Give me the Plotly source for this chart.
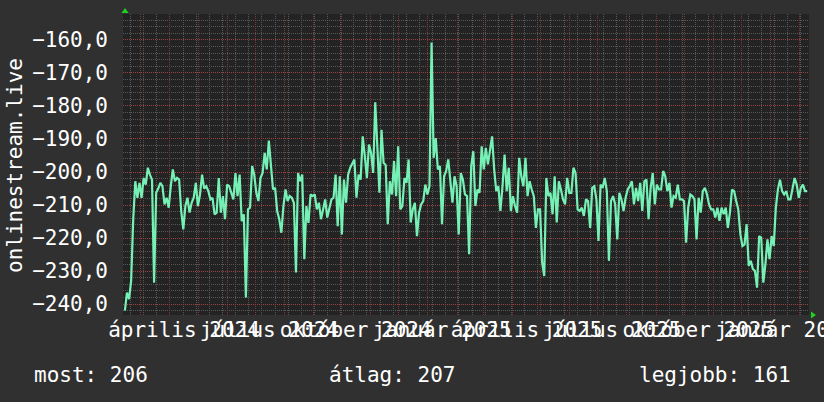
import pandas as pd
import plotly.graph_objects as go

# ---- data ----
values_a = [
    -242, -236.5, -238.5, -233, -214.3, -202.8, -207.8, -203.3, -207.8, -201.8,
    -203.8, -198.7, -200.8, -202.3, -233.5, -206.3, -205, -203.3, -204.3, -209.8,
    -207.8, -210.8, -204.3, -199.2, -202.8, -201.8, -202.3, -211.8, -217.4, -210.3,
    -207.8, -212.3, -209.3, -207.8, -203.3, -210.3, -206.8, -200.8, -205, -204.3,
    -205.8, -208.3, -207.8, -212.8, -212.3, -201.8, -212.3, -207.3, -214.3, -203.8,
    -204.3, -206.3, -208.3, -200.3, -207.3, -200.8, -214.9, -212.8, -238, -211.3,
    -210.8, -198.2, -200.8, -206.3, -208.8, -201.8, -200.3, -194.2, -199.2, -190.5,
    -199.2, -205.3, -204.8, -211.8, -214.3, -218.4, -210.3, -205.3, -208.8, -207.3,
    -207.8, -209.3, -230.4, -200.3, -202.8, -200.8, -226.4, -210.3, -215.4, -206.8,
    -207.3, -206.8, -211.3, -209.3, -214.3, -210.8, -208.3, -213.8, -210.8, -208.3,
    -207.8, -200.8, -216.4, -201.3, -218.9, -202.3, -209.3, -200.8, -198.7, -197.2,
]
values_b = [
    -196.2, -207.8, -200.8, -202.3, -189.2, -195.2, -201.8, -191.7, -194.2, -200.3,
    -178.9, -192.2, -206.3, -187.2, -197.2, -197.9, -215.8, -202.8, -206.8, -196.7,
    -207.3, -192.2, -211.3, -210.3, -201.8, -203.3, -196.2, -215.3, -211.3, -209.3,
    -219.4, -212.3, -209.8, -208.8, -203.8, -206.8, -204.3, -160.8, -195.7, -189.7,
    -199.2, -198.2, -215.8, -201.3, -199.7, -196.2, -202.3, -209.3, -201.3, -204.3,
    -218.9, -200.3, -202.3, -206.8, -207.3, -224.9, -198.2, -193.7, -210.3, -205.3,
    -206.3, -192.2, -199.2, -192.7, -197.7, -192.7, -189.2, -199.2, -205.8, -204.3,
    -211.8, -204.3, -194.7, -205.8, -198.7, -211.8, -207.3, -210.3, -212.3, -195.7,
    -201.3, -204.3, -195.7, -207.3, -202.8, -205.3, -207.3, -216.9, -211.3, -211.3,
    -227.4, -231.5, -201.8, -207.3, -206.3, -212.8, -201.3, -215.3, -202.8, -205.3,
    -208.3, -209.8, -201.8, -206.3, -206.3, -198.7, -200.3,
]
values_c = [
    -211.3, -211.8, -210.8, -213.3, -208.3, -208.8, -216.9, -204.8, -204.3,
    -208.3, -220.9, -203.8, -204.8, -201.8, -205.8, -226.9, -208.8, -207.3, -209.8,
    -220.4, -206.3, -208.3, -211.8, -207.8, -205.3, -204.3, -202.8, -209.8, -204.8,
    -208.8, -203.3, -211.8, -202.8, -202.3, -214.3, -204.8, -200.3, -209.8, -203.8,
    -205.3, -205.3, -199.7, -201.3, -205.8, -203.3, -210.8, -207.3, -207.8, -203.8,
    -208.3, -208.3, -208.8, -221.4, -210.8, -206.8, -207.3, -208.3, -220.4, -207.8,
    -212.3, -205.8, -204.8, -206.8, -209.8, -211.3, -211.3, -213.8, -210.8, -214.8,
    -210.8, -212.8, -210.8, -216.9, -212.3, -205.3, -205.8, -208.8, -211.3, -218.9,
    -222.4, -221.9, -215.8, -228.4, -226.9, -229.4, -229.9, -235, -219.4, -219.9,
    -233.5, -228, -220.4, -226.4, -219.4, -222.4, -210.8, -205.3, -202.3, -205.8,
    -206.8, -205.8, -208.3, -208.3, -204.8, -201.8, -203.8, -207.8, -204.8, -203.8,
    -205.8, -205.8,
]
values = values_a + values_b + values_c
first_date = "2024-02-13"
last_date = "2026-02-09"
dates = pd.date_range(first_date, last_date, periods=len(values))

x_range = ["2024-02-11", "2026-02-11"]
y_range = [-243.3, -152.15]

label_dates = ["2024-04-16", "2024-07-16", "2024-10-16", "2025-01-16",
               "2025-04-16", "2025-07-16", "2025-10-16", "2026-01-16"]
label_texts = ["április 2024", "július 2024", "október 2024", "január 2025",
               "április 2025", "július 2025", "október 2025", "január 2026"]

series_name = "onlinestream.live"
stat_texts = ["most: 206", "átlag: 207", "legjobb: 161"]

# ---- style ----
W, H = 824, 402
L, R, T, B = 123, 15, 14, 87
PW, PH = W - L - R, H - T - B
FONT = "DejaVu Sans Mono"
FS = 21
PAPER = "#303030"
PLOT = "#232323"
MINOR = "#575757"
MAJOR = "#7c3838"
MAJOR_Y = "#9a4242"
LINE = "#76f1b6"
ARROW = "#1ed21e"
DOTS = "1px,1px"

# minor horizontal grid every 2 units, skipping the major (every 10) lines
y_minor = [v for v in range(-242, -152, 2) if v % 10 != 0]

def px_x(p):
    return (p - L) / PW

def px_y(p):
    return (H - B - p) / PH

fig = go.Figure()
fig.add_trace(go.Scatter(x=dates, y=values, mode="lines",
                         line=dict(color=LINE, width=2.2), showlegend=False,
                         hoverinfo="skip"))
# invisible trace on the label axis
fig.add_trace(go.Scatter(x=[dates[0]], y=[values[0]], xaxis="x2", mode="lines",
                         line=dict(width=0), showlegend=False, hoverinfo="skip"))

fig.update_layout(
    width=W, height=H,
    margin=dict(l=L, r=R, t=T, b=B, autoexpand=False),
    paper_bgcolor=PAPER, plot_bgcolor=PLOT,
    separators=", ",
    font=dict(family=FONT, color="#ffffff", size=FS),
    xaxis=dict(
        type="date", range=x_range, showticklabels=False,
        tick0="2024-03-01", dtick="M1",
        showgrid=True, gridcolor=MAJOR, griddash=DOTS, gridwidth=1.2,
        ticks="", zeroline=False, showline=False,
        minor=dict(tick0="2025-07-07", dtick=14 * 86400000, showgrid=True,
                   gridcolor=MINOR, griddash=DOTS, gridwidth=1),
    ),
    xaxis2=dict(
        type="date", range=x_range, overlaying="x", side="bottom",
        tickmode="array", tickvals=label_dates, ticktext=label_texts,
        tickangle=0, ticklabeloverflow="allow",
        showgrid=False, zeroline=False, ticks="", showline=False,
        tickfont=dict(family=FONT, size=FS, color="#ffffff"),
        ticklabelstandoff=0, automargin=False,
    ),
    yaxis=dict(
        range=y_range, tick0=-160, dtick=10, tickformat=".1f",
        showgrid=True, gridcolor=MAJOR_Y, griddash=DOTS, gridwidth=1.2,
        zeroline=False, ticks="", showline=False,
        tickfont=dict(family=FONT, size=FS, color="#ffffff"),
        ticklabelstandoff=14, automargin=False,
        minor=dict(tickmode="array", tickvals=y_minor, showgrid=True,
                   gridcolor=MINOR, griddash=DOTS, gridwidth=1),
    ),
)

fig.add_annotation(text=series_name, textangle=-90, xref="paper", yref="paper",
                   x=px_x(15), y=px_y(165), xanchor="center", yanchor="middle",
                   showarrow=False, font=dict(family=FONT, size=FS, color="#ffffff"))
for txt, xpx in zip(stat_texts, [32, 327, 637]):
    fig.add_annotation(text=txt, xref="paper", yref="paper",
                       x=px_x(xpx), y=px_y(375), xanchor="left", yanchor="middle",
                       showarrow=False, font=dict(family=FONT, size=FS, color="#ffffff"))

# small green axis arrows
fig.add_shape(type="path", xref="paper", yref="paper",
              path=f"M {px_x(125)} {px_y(8)} L {px_x(121.5)} {px_y(13)} L {px_x(128.5)} {px_y(13)} Z",
              fillcolor=ARROW, line=dict(width=0))
fig.add_shape(type="path", xref="paper", yref="paper",
              path=f"M {px_x(816)} {px_y(315)} L {px_x(811)} {px_y(311.5)} L {px_x(811)} {px_y(318.5)} Z",
              fillcolor=ARROW, line=dict(width=0))

fig.write_html("out.html", config={"displayModeBar": False},
               post_script="document.body.style.margin='0px';document.body.style.overflow='hidden';")
